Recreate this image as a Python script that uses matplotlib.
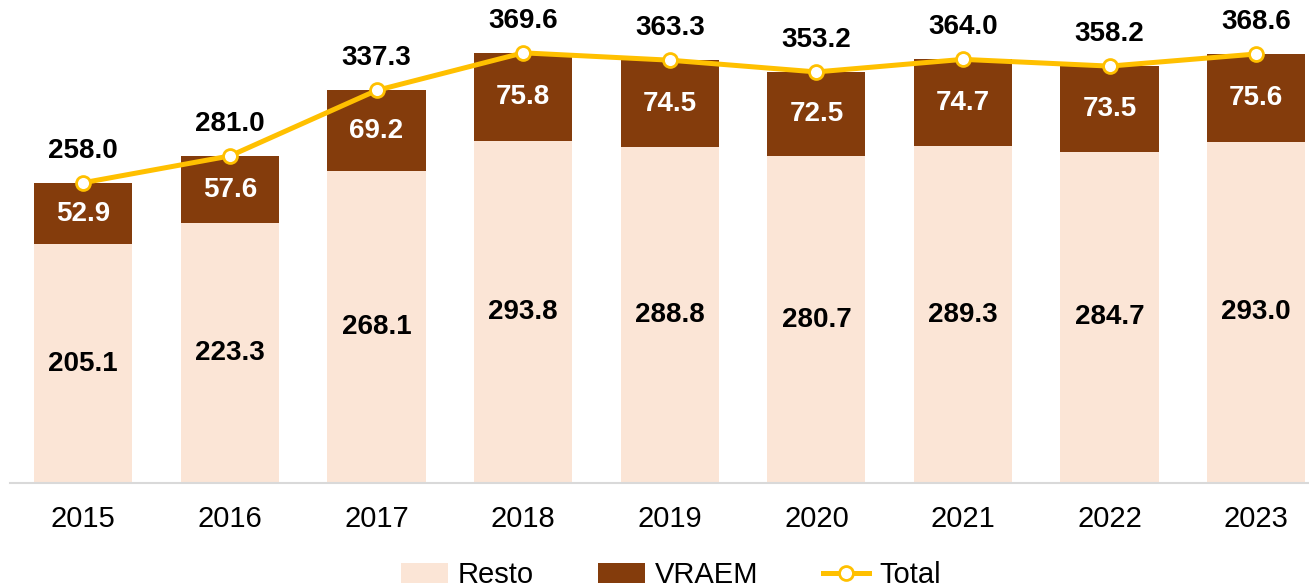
import matplotlib
matplotlib.use("Agg")
import matplotlib.pyplot as plt
from matplotlib.lines import Line2D
from matplotlib.patches import Patch

years = ["2015", "2016", "2017", "2018", "2019", "2020", "2021", "2022", "2023"]
resto = [205.1, 223.3, 268.1, 293.8, 288.8, 280.7, 289.3, 284.7, 293.0]
vraem = [52.9, 57.6, 69.2, 75.8, 74.5, 72.5, 74.7, 73.5, 75.6]
total = [258.0, 281.0, 337.3, 369.6, 363.3, 353.2, 364.0, 358.2, 368.6]

plt.rcParams['font.family'] = ['Liberation Sans', 'DejaVu Sans']

C_RESTO = "#FBE5D6"
C_VRAEM = "#843C0C"
C_TOTAL = "#FFC000"
FS = 20
FS_T = 21

fig = plt.figure(figsize=(13.09, 5.88), dpi=100)
ax = fig.add_axes([10/1309, 105/588, 1 - 10/1309, 483/588])

x = list(range(len(years)))
w = 0.67
ax.bar(x, resto, width=w, color=C_RESTO, zorder=2)
ax.bar(x, vraem, width=w, bottom=resto, color=C_VRAEM, zorder=2)
ax.plot(x, total, color=C_TOTAL, lw=3.6, marker='o', ms=10, mfc='white',
        mec=C_TOTAL, mew=2, zorder=4)

for i in x:
    ax.text(i, resto[i] / 2, f"{resto[i]:.1f}", ha='center', va='center',
            fontsize=FS, fontweight='bold', color='black', zorder=5)
    ax.text(i, resto[i] + vraem[i] / 2, f"{vraem[i]:.1f}", ha='center', va='center',
            fontsize=FS, fontweight='bold', color='white', zorder=5)
    ax.annotate(f"{total[i]:.1f}", (i, total[i]), xytext=(0, 23),
                textcoords='offset points', ha='center', va='center',
                fontsize=FS, fontweight='bold', color='black', zorder=5)

ax.set_xlim(-0.5, 8.36)
ax.set_ylim(0, 415)
ax.set_xticks(x)
ax.set_xticklabels(years, fontsize=FS_T)
ax.tick_params(axis='x', length=0, pad=16)
ax.set_yticks([])
for s in ['left', 'right', 'top']:
    ax.spines[s].set_visible(False)
ax.spines['bottom'].set_color('#D9D9D9')
ax.spines['bottom'].set_linewidth(1.5)

handles = [
    Patch(facecolor=C_RESTO, edgecolor='none'),
    Patch(facecolor=C_VRAEM, edgecolor='none'),
    Line2D([0], [0], color=C_TOTAL, lw=3.6, marker='o', ms=10, mfc='white',
           mec=C_TOTAL, mew=2),
]
fig.legend(handles, ["Resto", "VRAEM", "Total"], loc='center',
           bbox_to_anchor=(0.5126, 0.022), ncol=3, frameon=False,
           fontsize=FS_T, handlelength=1.6, handletextpad=0.35, columnspacing=2.2)

fig.savefig("out.png", dpi=100)
